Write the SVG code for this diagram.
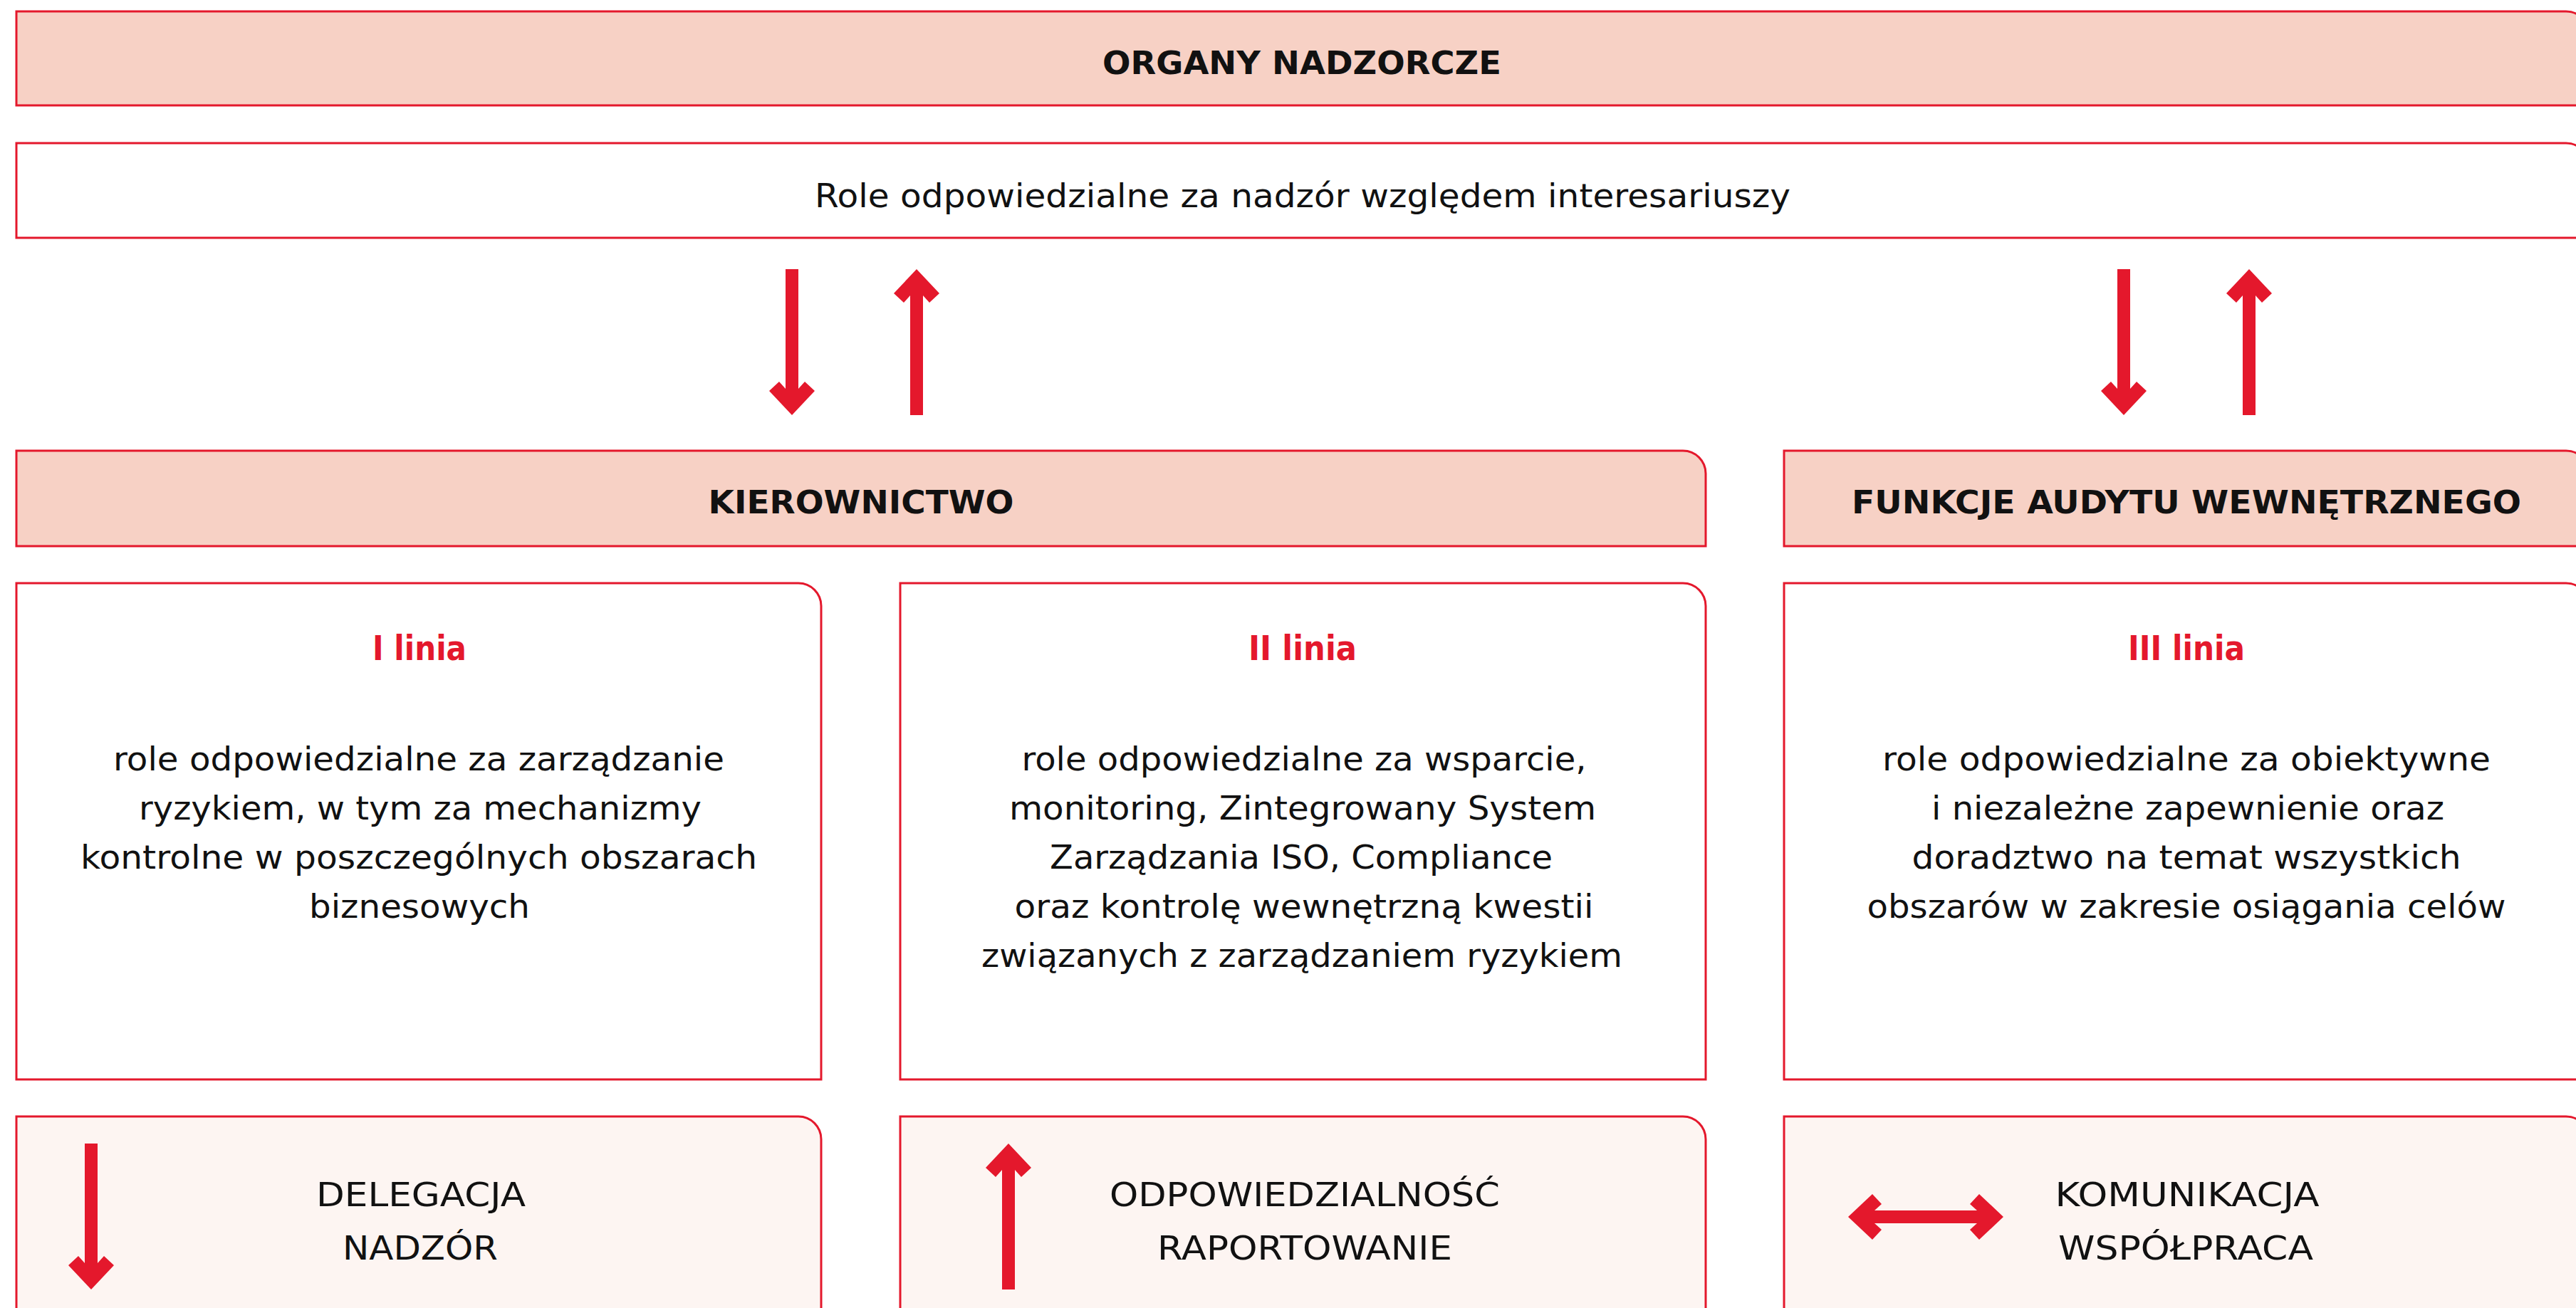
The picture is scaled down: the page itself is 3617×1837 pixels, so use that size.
<svg xmlns="http://www.w3.org/2000/svg" xmlns:xlink="http://www.w3.org/1999/xlink" width="3617" height="1837" viewBox="0 0 3617 1837">
  <style>
    .box{stroke:#E4182C;stroke-width:3}
    .peach{fill:#F7D1C5}
    .white{fill:#FFFFFF}
    .light{fill:#FDF5F2}
    .hdr{font-family:"DejaVu Sans","Liberation Sans",sans-serif;font-weight:bold;font-size:45px;fill:#111111;text-anchor:middle}
    .red{font-family:"DejaVu Sans","Liberation Sans",sans-serif;font-weight:bold;font-size:48px;fill:#E4182C;text-anchor:middle}
    .txt{font-family:"DejaVu Sans","Liberation Sans",sans-serif;font-size:46px;fill:#111111;text-anchor:middle}
    .arr{fill:#E4182C}
  </style>
  <defs>
    <path id="arrDown" d="M-9 0 H9 V168 L18 158 L32 171 L0 205 L-32 171 L-18 158 L-9 168 Z"/>
  </defs>
  <rect width="3617" height="1837" fill="#FFFFFF"/>

  <g id="organy-nadzorcze">
    <path class="box peach" d="M23 16 H3603 A32 32 0 0 1 3635 48 V148 H23 Z"/>
    <text class="hdr" x="1828" y="104" textLength="560" lengthAdjust="spacingAndGlyphs">ORGANY NADZORCZE</text>
  </g>

  <g id="role-nadzor">
    <path class="box white" d="M23 201 H3603 A32 32 0 0 1 3635 233 V334 H23 Z"/>
    <text class="txt" x="1829" y="291" textLength="1370" lengthAdjust="spacingAndGlyphs">Role odpowiedzialne za nadzór względem interesariuszy</text>
  </g>

  <g id="kierownictwo">
    <path class="box peach" d="M23 633 H2363 A32 32 0 0 1 2395 665 V767 H23 Z"/>
    <text class="hdr" x="1209" y="721" textLength="429" lengthAdjust="spacingAndGlyphs">KIEROWNICTWO</text>
  </g>

  <g id="funkcje-audytu">
    <path class="box peach" d="M2505 633 H3603 A32 32 0 0 1 3635 665 V767 H2505 Z"/>
    <text class="hdr" x="3070" y="721" textLength="940" lengthAdjust="spacingAndGlyphs">FUNKCJE AUDYTU WEWNĘTRZNEGO</text>
  </g>

  <g id="linia-1">
    <path class="box white" d="M23 819 H1121 A32 32 0 0 1 1153 851 V1516 H23 Z"/>
    <text class="red" x="589" y="927" textLength="132" lengthAdjust="spacingAndGlyphs">I linia</text>
    <text class="txt" x="588" y="1082" textLength="858" lengthAdjust="spacingAndGlyphs">role odpowiedzialne za zarządzanie</text>
    <text class="txt" x="590" y="1151" textLength="790" lengthAdjust="spacingAndGlyphs">ryzykiem, w tym za mechanizmy</text>
    <text class="txt" x="588" y="1220" textLength="950" lengthAdjust="spacingAndGlyphs">kontrolne w poszczególnych obszarach</text>
    <text class="txt" x="589" y="1289" textLength="310" lengthAdjust="spacingAndGlyphs">biznesowych</text>
  </g>

  <g id="linia-2">
    <path class="box white" d="M1264 819 H2363 A32 32 0 0 1 2395 851 V1516 H1264 Z"/>
    <text class="red" x="1829" y="927" textLength="152" lengthAdjust="spacingAndGlyphs">II linia</text>
    <text class="txt" x="1831" y="1082" textLength="793" lengthAdjust="spacingAndGlyphs">role odpowiedzialne za wsparcie,</text>
    <text class="txt" x="1829" y="1151" textLength="824" lengthAdjust="spacingAndGlyphs">monitoring, Zintegrowany System</text>
    <text class="txt" x="1827" y="1220" textLength="706" lengthAdjust="spacingAndGlyphs">Zarządzania ISO, Compliance</text>
    <text class="txt" x="1831" y="1289" textLength="813" lengthAdjust="spacingAndGlyphs">oraz kontrolę wewnętrzną kwestii</text>
    <text class="txt" x="1828" y="1358" textLength="900" lengthAdjust="spacingAndGlyphs">związanych z zarządzaniem ryzykiem</text>
  </g>

  <g id="linia-3">
    <path class="box white" d="M2505 819 H3603 A32 32 0 0 1 3635 851 V1516 H2505 Z"/>
    <text class="red" x="3070" y="927" textLength="164" lengthAdjust="spacingAndGlyphs">III linia</text>
    <text class="txt" x="3070" y="1082" textLength="854" lengthAdjust="spacingAndGlyphs">role odpowiedzialne za obiektywne</text>
    <text class="txt" x="3072" y="1151" textLength="720" lengthAdjust="spacingAndGlyphs">i niezależne zapewnienie oraz</text>
    <text class="txt" x="3070" y="1220" textLength="771" lengthAdjust="spacingAndGlyphs">doradztwo na temat wszystkich</text>
    <text class="txt" x="3070" y="1289" textLength="897" lengthAdjust="spacingAndGlyphs">obszarów w zakresie osiągania celów</text>
  </g>

  <g id="delegacja-nadzor">
    <path class="box light" d="M23 1568 H1121 A32 32 0 0 1 1153 1600 V1900 H23 Z"/>
    <use href="#arrDown" xlink:href="#arrDown" class="arr" transform="translate(128 1606)"/>
    <text class="txt" x="591" y="1694" textLength="294" lengthAdjust="spacingAndGlyphs">DELEGACJA</text>
    <text class="txt" x="590" y="1769" textLength="218" lengthAdjust="spacingAndGlyphs">NADZÓR</text>
  </g>

  <g id="odpowiedzialnosc-raportowanie">
    <path class="box light" d="M1264 1568 H2363 A32 32 0 0 1 2395 1600 V1900 H1264 Z"/>
    <use href="#arrDown" xlink:href="#arrDown" class="arr" transform="translate(1416 1811) rotate(180)"/>
    <text class="txt" x="1832" y="1694" textLength="548" lengthAdjust="spacingAndGlyphs">ODPOWIEDZIALNOŚĆ</text>
    <text class="txt" x="1832" y="1769" textLength="414" lengthAdjust="spacingAndGlyphs">RAPORTOWANIE</text>
  </g>

  <g id="komunikacja-wspolpraca">
    <path class="box light" d="M2505 1568 H3603 A32 32 0 0 1 3635 1600 V1900 H2505 Z"/>
    <path class="arr" d="M2595 1709 L2629 1677 L2642 1691 L2632 1700 H2776 L2766 1691 L2779 1677 L2813 1709 L2779 1741 L2766 1727 L2776 1718 H2632 L2642 1727 L2629 1741 Z"/>
    <text class="txt" x="3071" y="1694" textLength="371" lengthAdjust="spacingAndGlyphs">KOMUNIKACJA</text>
    <text class="txt" x="3069" y="1769" textLength="358" lengthAdjust="spacingAndGlyphs">WSPÓŁPRACA</text>
  </g>

  <g id="connectors">
    <use href="#arrDown" xlink:href="#arrDown" class="arr" transform="translate(1112 378)"/>
    <use href="#arrDown" xlink:href="#arrDown" class="arr" transform="translate(1287 583) rotate(180)"/>
    <use href="#arrDown" xlink:href="#arrDown" class="arr" transform="translate(2982 378)"/>
    <use href="#arrDown" xlink:href="#arrDown" class="arr" transform="translate(3158 583) rotate(180)"/>
  </g>
</svg>
